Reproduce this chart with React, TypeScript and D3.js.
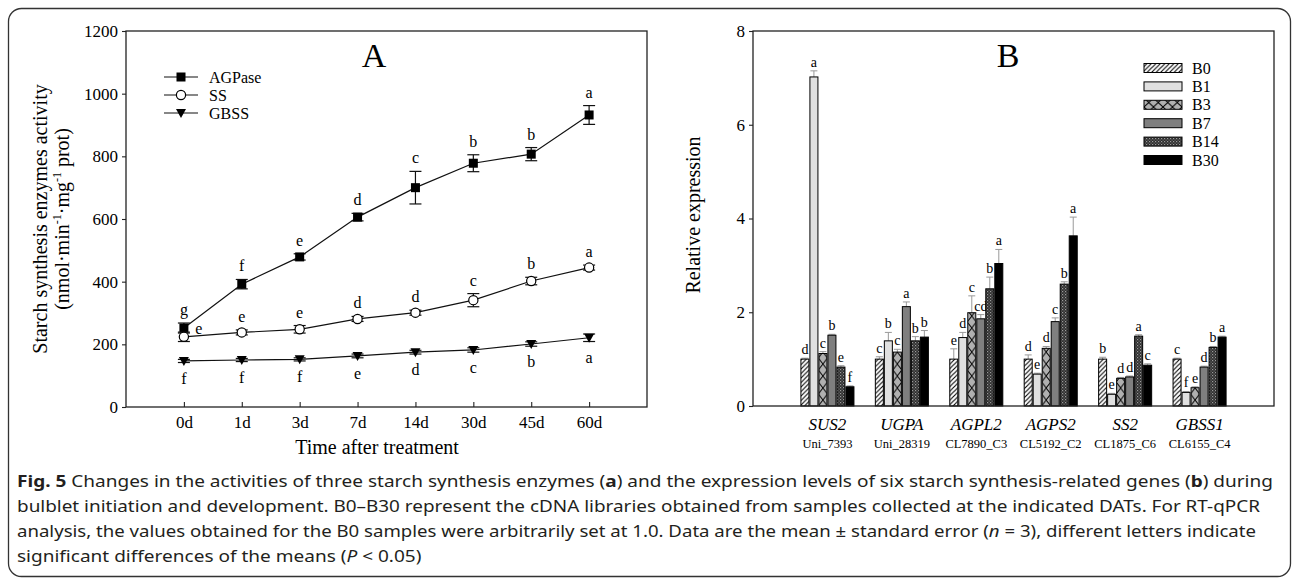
import React, { useEffect, useRef } from "react";
import * as d3 from "d3";

// ---- panel A data (enzyme activity) ----
const days = ["0d", "1d", "3d", "7d", "14d", "30d", "45d", "60d"];
const agpase = [252, 392, 479, 606, 700, 778, 807, 932];
const agpaseErr = [16, 15, 10, 12, 52, 27, 21, 30];
const agpaseLetters = ["g", "f", "e", "d", "c", "b", "b", "a"];
const ss = [224, 238, 248, 281, 301, 341, 402, 445];
const ssErr = [15, 8, 12, 8, 8, 21, 12, 8];
const ssLetters = ["e", "e", "e", "d", "d", "c", "b", "a"];
const gbss = [147, 150, 152, 163, 175, 182, 201, 221];
const gbssErr = [5, 5, 5, 6, 6, 7, 7, 12];
const gbssLetters = ["f", "f", "f", "e", "d", "c", "b", "a"];
const yTicksA = [0, 200, 400, 600, 800, 1000, 1200];

// ---- panel B data (relative expression) ----
const genes = ["SUS2", "UGPA", "AGPL2", "AGPS2", "SS2", "GBSS1"];
const geneIds = ["Uni_7393", "Uni_28319", "CL7890_C3", "CL5192_C2", "CL1875_C6", "CL6155_C4"];
const libs = ["B0", "B1", "B3", "B7", "B14", "B30"];
const exprB0 = [1.0, 1.0, 1.0, 1.0, 1.0, 1.0];
const exprB1 = [7.02, 1.39, 1.46, 0.68, 0.25, 0.29];
const exprB3 = [1.12, 1.15, 1.99, 1.23, 0.59, 0.39];
const exprB7 = [1.51, 2.12, 1.86, 1.8, 0.62, 0.83];
const exprB14 = [0.83, 1.39, 2.5, 2.6, 1.49, 1.25];
const exprB30 = [0.41, 1.47, 3.04, 3.63, 0.87, 1.47];
const errB0 = [0.02, 0.05, 0.22, 0.09, 0.04, 0.02];
const errB1 = [0.13, 0.18, 0.11, 0.02, 0.02, 0.02];
const errB3 = [0.04, 0.06, 0.36, 0.04, 0.02, 0.02];
const errB7 = [0.02, 0.1, 0.09, 0.08, 0.02, 0.02];
const errB14 = [0.03, 0.09, 0.25, 0.05, 0.03, 0.02];
const errB30 = [0.02, 0.14, 0.3, 0.4, 0.03, 0.02];
const lettersB0 = ["d", "c", "e", "d", "b", "c"];
const lettersB1 = ["a", "b", "d", "e", "e", "f"];
const lettersB3 = ["c", "c", "c", "d", "d", "e"];
const lettersB7 = ["b", "a", "cd", "c", "d", "d"];
const lettersB14 = ["e", "b", "b", "b", "a", "b"];
const lettersB30 = ["f", "b", "a", "a", "c", "a"];
const yTicksB = [0, 2, 4, 6, 8];

const exprByLib = [exprB0, exprB1, exprB3, exprB7, exprB14, exprB30];
const errByLib = [errB0, errB1, errB3, errB7, errB14, errB30];
const lettersByLib = [lettersB0, lettersB1, lettersB3, lettersB7, lettersB14, lettersB30];

const serif = '"Liberation Serif", "Times New Roman", serif';
const capFont = '"Liberation Sans Narrow", "Noto Sans", "DejaVu Sans", sans-serif';

// scales
const xA = d3.scalePoint<string>().domain(days).range([126, 647]).padding(1);
const yA = d3.scaleLinear().domain([0, 1200]).range([407, 31]);
const xB = d3.scaleBand<string>().domain(genes).range([753, 1274]).paddingInner(0.274).paddingOuter(0.637);
const xSub = d3.scaleBand<string>().domain(libs).range([0, xB.bandwidth()]);
const yB = d3.scaleLinear().domain([0, 8]).range([406, 31]);

const libFill = (i: number, key: string) => {
    if (i === 0) return "url(#hatch)";
    if (i === 1) return "#e0e0e0";
    if (i === 2) return `url(#xx-${key})`;
    if (i === 3) return "#7f7f7f";
    if (i === 4) return "url(#check)";
    return "#000";
};

const Marker = ({ kind, x, y }: { kind: string; x: number; y: number }) => {
    if (kind === "square") return <rect x={x - 4.5} y={y - 4.5} width={9} height={9} fill="#000" />;
    if (kind === "circle") return <circle cx={x} cy={y} r={4.6} fill="#fff" stroke="#000" strokeWidth={1.2} />;
    return <path d={`M${x - 5},${y - 4} L${x + 5},${y - 4} L${x},${y + 5} Z`} fill="#000" />;
};

const App = () => {
    const axisAy = useRef<SVGGElement>(null);
    const axisAx = useRef<SVGGElement>(null);
    const axisBy = useRef<SVGGElement>(null);
    const cap1 = useRef<SVGTextElement>(null);
    const cap4 = useRef<SVGTextElement>(null);

    useEffect(() => {
        const style = (g: any) => {
            g.select(".domain").remove();
            g.attr("font-family", serif).attr("font-size", 17);
            g.selectAll("line").attr("stroke", "#222").attr("stroke-width", 1.1);
        };
        d3.select(axisAy.current)
            .call(d3.axisLeft(yA).tickValues(yTicksA).tickSize(4).tickPadding(4).tickFormat(d3.format("d")) as any)
            .call(style);
        d3.select(axisAx.current)
            .call(d3.axisBottom(xA).tickSizeInner(-5).tickSizeOuter(0).tickPadding(9) as any)
            .call(style);
        d3.select(axisBy.current)
            .call(d3.axisLeft(yB).tickValues(yTicksB).tickSize(4).tickPadding(4).tickFormat(d3.format("d")) as any)
            .call(style);

        // last caption line: same squeeze as the first line
        if (cap1.current && cap4.current) {
            const l1 = cap1.current.getComputedTextLength();
            const l4 = cap4.current.getComputedTextLength();
            cap1.current.setAttribute("textLength", "1256");
            cap1.current.setAttribute("lengthAdjust", "spacingAndGlyphs");
            cap4.current.setAttribute("textLength", String((l4 * 1256) / l1));
            cap4.current.setAttribute("lengthAdjust", "spacingAndGlyphs");
        }
    }, []);

    const line = d3.line<number>().x((_, i) => xA(days[i]) as number).y(d => yA(d));

    const seriesA = [
        { name: "AGPase", vals: agpase, err: agpaseErr, letters: agpaseLetters, kind: "square" },
        { name: "SS", vals: ss, err: ssErr, letters: ssLetters, kind: "circle" },
        { name: "GBSS", vals: gbss, err: gbssErr, letters: gbssLetters, kind: "triangle" },
    ];

    const subW = xSub.bandwidth();

    return (
        <svg width={1292} height={580} style={{ position: "absolute", left: 0, top: 0 }} fontFamily={serif}>
            <defs>
                <pattern id="hatch" patternUnits="userSpaceOnUse" width={4.5} height={4.5}>
                    <rect width={4.5} height={4.5} fill="#fff" />
                    <path d="M-1,1 l2,-2 M0,4.5 l4.5,-4.5 M3.5,5.5 l2,-2" stroke="#000" strokeWidth={1.1} />
                </pattern>
                <pattern id="check" patternUnits="userSpaceOnUse" width={3} height={3}>
                    <rect width={3} height={3} fill="#2e2e2e" />
                    <rect x={0} y={0} width={1.2} height={1.2} fill="#9a9a9a" />
                    <rect x={1.5} y={1.5} width={1.2} height={1.2} fill="#707070" />
                </pattern>
                {genes.map(g => {
                    const x0 = (xB(g) as number) + (xSub("B3") as number);
                    return (
                        <pattern key={g} id={`xx-${g}`} patternUnits="userSpaceOnUse" x={x0} y={406} width={subW} height={12}>
                            <rect width={subW} height={12} fill="#b0b0b0" />
                            <path d={`M0,0 L${subW},12 M${subW},0 L0,12`} stroke="#000" strokeWidth={1} />
                        </pattern>
                    );
                })}
                <pattern id="xx-legend" patternUnits="userSpaceOnUse" x={1144} y={62} width={9.5} height={9}>
                    <rect width={9.5} height={9} fill="#b0b0b0" />
                    <path d="M0,0 L9.5,9 M9.5,0 L0,9" stroke="#000" strokeWidth={1} />
                </pattern>
            </defs>

            <rect x={8.5} y={8.5} width={1282} height={568} rx={13} fill="none" stroke="#333" strokeWidth={1.3} />

            {/* ---------- Panel A ---------- */}
            <rect x={126} y={31} width={521} height={376} fill="none" stroke="#222" strokeWidth={1.3} />
            <g ref={axisAy} transform="translate(126,0)" />
            <g ref={axisAx} transform="translate(0,407)" />
            <text x={374} y={67} fontSize={34} textAnchor="middle">A</text>
            <text x={377} y={454} fontSize={20} textAnchor="middle">Time after treatment</text>
            <text transform="translate(47,219) rotate(-90)" fontSize={20} textAnchor="middle">Starch synthesis enzymes activity</text>
            <text transform="translate(69,219) rotate(-90)" fontSize={20} textAnchor="middle">
                (nmol·min<tspan fontSize={12} dy={-8}>-1</tspan>
                <tspan dy={8}>·mg</tspan>
                <tspan fontSize={12} dy={-8}>-1</tspan>
                <tspan dy={8}> prot)</tspan>
            </text>

            {seriesA.map(s => (
                <g key={s.name}>
                    <path d={line(s.vals) as string} fill="none" stroke="#111" strokeWidth={1.2} />
                    {s.vals.map((v, i) => {
                        const x = xA(days[i]) as number;
                        const y1 = yA(v + s.err[i]);
                        const y2 = yA(v - s.err[i]);
                        return (
                            <g key={i}>
                                <line x1={x} x2={x} y1={y1} y2={y2} stroke="#111" strokeWidth={1.2} />
                                <line x1={x - 6} x2={x + 6} y1={y1} y2={y1} stroke="#111" strokeWidth={1.2} />
                                <line x1={x - 6} x2={x + 6} y1={y2} y2={y2} stroke="#111" strokeWidth={1.2} />
                            </g>
                        );
                    })}
                    {s.vals.map((v, i) => (
                        <Marker key={i} kind={s.kind} x={xA(days[i]) as number} y={yA(v)} />
                    ))}
                    {s.vals.map((v, i) => {
                        const x = xA(days[i]) as number;
                        let tx = x;
                        let ty = yA(v + s.err[i]) - 8;
                        if (s.kind === "triangle") ty = yA(v - s.err[i]) + 21;
                        if (s.kind === "circle" && i === 0) {
                            tx = x + 15;
                            ty = yA(v) - 3;
                        }
                        return (
                            <text key={i} x={tx} y={ty} fontSize={16} textAnchor="middle">{s.letters[i]}</text>
                        );
                    })}
                </g>
            ))}

            {seriesA.map((s, i) => {
                const cy = 77 + i * 18;
                return (
                    <g key={s.name}>
                        <line x1={164} x2={198} y1={cy} y2={cy} stroke="#111" strokeWidth={1.2} />
                        <Marker kind={s.kind} x={181} y={cy} />
                        <text x={209} y={cy + 5.5} fontSize={16}>{s.name}</text>
                    </g>
                );
            })}

            {/* ---------- Panel B ---------- */}
            <g ref={axisBy} transform="translate(753,0)" />
            <text x={1008} y={67} fontSize={34} textAnchor="middle">B</text>
            <text transform="translate(700,215) rotate(-90)" fontSize={20} textAnchor="middle">Relative expression</text>

            {genes.map((g, gi) => (
                <g key={g}>
                    {libs.map((lib, li) => {
                        const v = exprByLib[li][gi];
                        const e = errByLib[li][gi];
                        const x = (xB(g) as number) + (xSub(lib) as number);
                        const cx = x + subW / 2;
                        return (
                            <g key={lib}>
                                <line x1={cx} x2={cx} y1={yB(v)} y2={yB(v + e)} stroke="#999" strokeWidth={1} />
                                <line x1={cx - 3.5} x2={cx + 3.5} y1={yB(v + e)} y2={yB(v + e)} stroke="#999" strokeWidth={1} />
                                <rect x={x + 0.5} y={yB(v)} width={subW - 1} height={yB(0) - yB(v)}
                                    fill={libFill(li, g)} stroke="#000" strokeWidth={1} />
                                <text x={cx} y={yB(v + e) - 4} fontSize={14} fill="#000" textAnchor="middle">{lettersByLib[li][gi]}</text>
                            </g>
                        );
                    })}
                    <text x={(xB(g) as number) + xB.bandwidth() / 2} y={430} fontSize={17} fontStyle="italic" textAnchor="middle">{g}</text>
                    <text x={(xB(g) as number) + xB.bandwidth() / 2} y={448} fontSize={12.5} textAnchor="middle">{geneIds[gi]}</text>
                </g>
            ))}

            <rect x={753} y={31} width={521} height={375} fill="none" stroke="#222" strokeWidth={1.3} />

            {libs.map((lib, i) => {
                const cy = 68 + i * 18.4;
                return (
                    <g key={lib}>
                        <rect x={1144} y={cy - 4.5} width={38} height={9}
                            fill={i === 2 ? "url(#xx-legend)" : libFill(i, "")} stroke="#000" strokeWidth={1} />
                        <text x={1192} y={cy + 5.5} fontSize={16}>{lib}</text>
                    </g>
                );
            })}

            {/* ---------- Caption ---------- */}
            <g fontFamily={capFont} fontSize={16.5} fill="#231f20">
                <text ref={cap1} x={17} y={487}>
                    <tspan fontWeight="bold">Fig. 5</tspan> Changes in the activities of three starch synthesis enzymes (<tspan fontWeight="bold">a</tspan>) and the expression levels of six starch synthesis-related genes (<tspan fontWeight="bold">b</tspan>) during
                </text>
                <text x={17} y={512} textLength={1243} lengthAdjust="spacingAndGlyphs">
                    bulblet initiation and development. B0–B30 represent the cDNA libraries obtained from samples collected at the indicated DATs. For RT-qPCR
                </text>
                <text x={17} y={537} textLength={1239} lengthAdjust="spacingAndGlyphs">
                    analysis, the values obtained for the B0 samples were arbitrarily set at 1.0. Data are the mean ± standard error (<tspan fontStyle="italic">n</tspan> = 3), different letters indicate
                </text>
                <text ref={cap4} x={17} y={562}>
                    significant differences of the means (<tspan fontStyle="italic">P</tspan> &lt; 0.05)
                </text>
            </g>
        </svg>
    );
};

export default App;
